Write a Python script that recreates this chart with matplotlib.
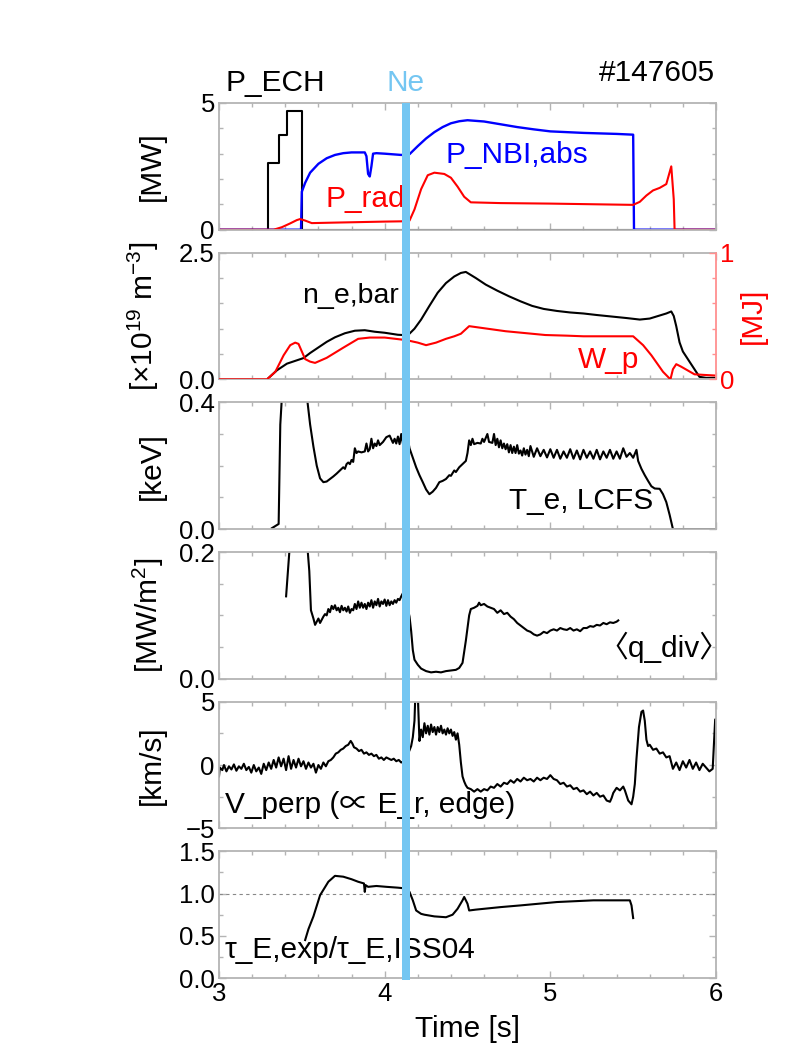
import matplotlib
matplotlib.use("Agg")
import matplotlib.pyplot as plt
from matplotlib.patches import Rectangle
from matplotlib.ticker import MultipleLocator

plt.rcParams['font.family'] = ['Liberation Sans', 'Noto Sans CJK JP', 'DejaVu Sans']
plt.rcParams['mathtext.default'] = 'regular'
plt.rcParams['axes.unicode_minus'] = True

# --- shot data ------------------------------------------------------------
shot = '#147605'
ne_puff = (4.105, 4.153)   # Ne gas puff window [s]

ech_t = [3.0, 3.295, 3.295, 3.36, 3.36, 3.41, 3.41, 3.50, 3.50, 6.0]
ech_p = [0.0, 0.0, 2.64, 2.64, 3.72, 3.72, 4.70, 4.70, 0.0, 0.0]

nbi_t = [3.0, 3.495, 3.50, 3.52, 3.55, 3.60, 3.65, 3.70, 3.75, 3.80, 3.88, 3.89,
         3.90, 3.91, 3.92, 3.93, 3.95, 4.00, 4.10, 4.15, 4.20, 4.25, 4.30, 4.35,
         4.40, 4.45, 4.50, 4.60, 4.70, 4.80, 4.90, 5.00, 5.20, 5.40, 5.50, 5.505, 6.0]
nbi_p = [0.0, 0.0, 1.50, 1.85, 2.25, 2.60, 2.82, 2.95, 3.02, 3.05, 3.05, 2.90,
         2.20, 2.10, 2.50, 3.00, 3.02, 3.00, 2.95, 2.98, 3.30, 3.60, 3.85, 4.05,
         4.20, 4.28, 4.32, 4.27, 4.16, 4.05, 3.96, 3.88, 3.82, 3.78, 3.75, 0.0, 0.0]

rad_t = [3.0, 3.33, 3.38, 3.43, 3.47, 3.49, 3.52, 3.56, 3.70, 3.85, 4.00, 4.10,
         4.15, 4.18, 4.22, 4.26, 4.30, 4.36, 4.40, 4.44, 4.48, 4.52, 4.70, 5.00,
         5.30, 5.50, 5.54, 5.58, 5.62, 5.66, 5.70, 5.73, 5.745, 5.75, 6.0]
rad_p = [0.0, 0.0, 0.10, 0.25, 0.38, 0.42, 0.36, 0.26, 0.28, 0.30, 0.32, 0.33,
         0.36, 0.80, 1.60, 2.15, 2.25, 2.20, 2.05, 1.70, 1.30, 1.08, 1.05, 1.03,
         1.00, 0.98, 1.10, 1.35, 1.55, 1.65, 1.80, 2.50, 1.20, 0.0, 0.0]

ne_t = [3.0, 3.29, 3.35, 3.41, 3.51, 3.55, 3.60, 3.65, 3.70, 3.76, 3.82, 3.88,
        3.94, 4.00, 4.08, 4.14, 4.18, 4.22, 4.27, 4.32, 4.37, 4.42, 4.46, 4.49,
        4.55, 4.61, 4.68, 4.75, 4.82, 4.89, 4.96, 5.04, 5.12, 5.20, 5.28, 5.37,
        5.46, 5.54, 5.60, 5.66, 5.70, 5.73, 5.745, 5.76, 5.78, 5.80, 5.83, 5.87,
        5.90, 5.94, 6.0]
ne_bar = [0.0, 0.0, 0.18, 0.31, 0.42, 0.52, 0.63, 0.74, 0.83, 0.91, 0.96, 0.97,
          0.94, 0.92, 0.88, 0.87, 1.00, 1.18, 1.45, 1.71, 1.90, 2.03, 2.10, 2.12,
          2.00, 1.87, 1.75, 1.64, 1.54, 1.45, 1.39, 1.35, 1.32, 1.30, 1.27, 1.24,
          1.21, 1.18, 1.20, 1.26, 1.30, 1.34, 1.25, 1.05, 0.73, 0.55, 0.40, 0.20,
          0.05, 0.03, 0.03]

wp_t = [3.0, 3.29, 3.34, 3.39, 3.43, 3.46, 3.48, 3.50, 3.52, 3.55, 3.58, 3.65,
        3.75, 3.84, 3.91, 4.00, 4.13, 4.20, 4.25, 4.31, 4.37, 4.42, 4.46, 4.51,
        4.62, 4.73, 4.85, 4.97, 5.10, 5.20, 5.35, 5.50, 5.56, 5.61, 5.68, 5.725,
        5.74, 5.76, 5.79, 5.83, 5.87, 5.93, 6.0]
wp = [0.0, 0.0, 0.06, 0.19, 0.27, 0.29, 0.28, 0.22, 0.16, 0.14, 0.13, 0.17,
      0.25, 0.32, 0.33, 0.33, 0.31, 0.29, 0.27, 0.29, 0.32, 0.34, 0.36, 0.42,
      0.40, 0.38, 0.365, 0.35, 0.345, 0.34, 0.34, 0.34, 0.27, 0.19, 0.06, 0.0,
      0.08, 0.12, 0.10, 0.07, 0.04, 0.035, 0.03]

te_t = [3.32, 3.36, 3.37, 3.38, 3.40, 3.50, 3.53, 3.55, 3.57, 3.59, 3.61, 3.63,
        3.65, 3.67, 3.69, 3.71, 3.73, 3.75, 3.76, 3.77, 3.78, 3.79, 3.80, 3.81,
        3.82, 3.83, 3.84, 3.86, 3.88, 3.89, 3.90, 3.91, 3.92, 3.93, 3.94, 3.95,
        3.96, 3.97, 3.99, 4.01, 4.03, 4.05, 4.06, 4.07, 4.08, 4.09, 4.10, 4.11,
        4.12, 4.13, 4.14, 4.15, 4.17, 4.19, 4.21, 4.23, 4.25, 4.27, 4.29, 4.31,
        4.33, 4.35, 4.37, 4.39, 4.40, 4.42, 4.43, 4.45, 4.47, 4.49, 4.50, 4.51,
        4.52, 4.53, 4.54, 4.56, 4.58, 4.59, 4.60, 4.62, 4.63, 4.65, 4.66, 4.67,
        4.68, 4.69, 4.70, 4.71, 4.72, 4.73, 4.74, 4.75, 4.76, 4.77, 4.78, 4.79,
        4.80, 4.81, 4.82, 4.83, 4.84, 4.85, 4.86, 4.87, 4.88, 4.90, 4.92, 4.94,
        4.96, 4.98, 5.00, 5.02, 5.04, 5.06, 5.08, 5.10, 5.12, 5.14, 5.16, 5.18,
        5.20, 5.22, 5.24, 5.26, 5.28, 5.30, 5.32, 5.34, 5.36, 5.38, 5.40, 5.42,
        5.44, 5.46, 5.48, 5.50, 5.52, 5.53, 5.55, 5.57, 5.59, 5.61, 5.63, 5.66,
        5.68, 5.70, 5.72, 5.74, 6.0]
te = [0.003, 0.016, 0.33, 0.42, 0.60, 0.60, 0.42, 0.33, 0.26, 0.20, 0.16, 0.148,
      0.150, 0.158, 0.166, 0.175, 0.185, 0.195, 0.190, 0.205, 0.210, 0.205, 0.218, 0.212,
      0.255, 0.240, 0.245, 0.242, 0.245, 0.270, 0.245, 0.252, 0.285, 0.255, 0.270, 0.262,
      0.280, 0.265, 0.275, 0.290, 0.295, 0.272, 0.285, 0.270, 0.292, 0.268, 0.300, 0.270,
      0.285, 0.262, 0.285, 0.255, 0.225, 0.195, 0.170, 0.148, 0.125, 0.110, 0.118, 0.130,
      0.148, 0.152, 0.158, 0.170, 0.168, 0.185, 0.180, 0.195, 0.205, 0.215, 0.240, 0.280,
      0.265, 0.285, 0.268, 0.272, 0.270, 0.285, 0.275, 0.300, 0.275, 0.272, 0.300, 0.265,
      0.285, 0.258, 0.280, 0.255, 0.270, 0.252, 0.268, 0.242, 0.265, 0.240, 0.260, 0.240,
      0.265, 0.238, 0.248, 0.232, 0.255, 0.235, 0.250, 0.230, 0.262, 0.228, 0.255, 0.230,
      0.250, 0.226, 0.252, 0.225, 0.250, 0.222, 0.245, 0.225, 0.252, 0.222, 0.248, 0.220,
      0.250, 0.225, 0.245, 0.222, 0.250, 0.220, 0.245, 0.225, 0.250, 0.222, 0.245, 0.222,
      0.255, 0.228, 0.240, 0.225, 0.250, 0.215, 0.190, 0.170, 0.152, 0.135, 0.128, 0.127,
      0.110, 0.085, 0.045, 0.0, 0.0]

qdiv_t = [3.405, 3.43, 3.45, 3.51, 3.53, 3.545, 3.555, 3.57, 3.58, 3.59, 3.60, 3.61,
          3.62, 3.63, 3.64, 3.65, 3.66, 3.67, 3.68, 3.69, 3.70, 3.71, 3.72, 3.73,
          3.74, 3.75, 3.76, 3.77, 3.78, 3.79, 3.80, 3.81, 3.82, 3.83, 3.84, 3.85,
          3.86, 3.87, 3.88, 3.89, 3.90, 3.91, 3.92, 3.93, 3.94, 3.95, 3.96, 3.97,
          3.98, 3.99, 4.00, 4.01, 4.02, 4.03, 4.04, 4.05, 4.06, 4.07, 4.08, 4.09,
          4.10, 4.11, 4.12, 4.13, 4.14, 4.15, 4.16, 4.17, 4.18, 4.20, 4.22, 4.25,
          4.28, 4.31, 4.34, 4.37, 4.40, 4.43, 4.45, 4.47, 4.49, 4.51, 4.52, 4.54,
          4.56, 4.57, 4.58, 4.60, 4.62, 4.64, 4.66, 4.68, 4.70, 4.72, 4.74, 4.76,
          4.78, 4.80, 4.82, 4.84, 4.86, 4.88, 4.90, 4.92, 4.94, 4.96, 4.98, 5.00,
          5.02, 5.04, 5.06, 5.08, 5.10, 5.12, 5.14, 5.16, 5.18, 5.20, 5.22, 5.24,
          5.26, 5.28, 5.30, 5.32, 5.34, 5.36, 5.38, 5.40, 5.41]
qdiv = [0.130, 0.22, 0.30, 0.30, 0.22, 0.170, 0.108, 0.095, 0.085, 0.090, 0.095, 0.088,
        0.093, 0.098, 0.102, 0.100, 0.110, 0.105, 0.115, 0.110, 0.116, 0.108, 0.112, 0.105,
        0.115, 0.108, 0.112, 0.106, 0.114, 0.104, 0.110, 0.108, 0.118, 0.110, 0.122, 0.112,
        0.120, 0.112, 0.118, 0.110, 0.120, 0.114, 0.124, 0.112, 0.122, 0.116, 0.126, 0.114,
        0.122, 0.118, 0.125, 0.115, 0.124, 0.116, 0.122, 0.118, 0.124, 0.120, 0.126, 0.124,
        0.130, 0.135, 0.128, 0.120, 0.110, 0.098, 0.075, 0.045, 0.030, 0.022, 0.016, 0.012,
        0.010, 0.011, 0.010, 0.012, 0.013, 0.014, 0.017, 0.025, 0.060, 0.100, 0.110, 0.112,
        0.115, 0.120, 0.116, 0.118, 0.114, 0.112, 0.110, 0.104, 0.108, 0.102, 0.104, 0.098,
        0.094, 0.088, 0.084, 0.080, 0.076, 0.074, 0.070, 0.068, 0.070, 0.074, 0.072, 0.076,
        0.078, 0.076, 0.080, 0.078, 0.077, 0.080, 0.076, 0.078, 0.075, 0.080, 0.080, 0.083,
        0.082, 0.085, 0.084, 0.088, 0.086, 0.089, 0.088, 0.090, 0.092]

vp_t = [3.0, 3.005, 3.02, 3.03, 3.045, 3.06, 3.075, 3.09, 3.105, 3.12, 3.135, 3.15,
        3.165, 3.18, 3.195, 3.21, 3.225, 3.24, 3.255, 3.27, 3.285, 3.30, 3.315, 3.33,
        3.345, 3.36, 3.375, 3.39, 3.405, 3.42, 3.435, 3.45, 3.465, 3.48, 3.495, 3.51,
        3.525, 3.54, 3.555, 3.57, 3.585, 3.60, 3.615, 3.63, 3.645, 3.66, 3.675, 3.69,
        3.705, 3.72, 3.735, 3.75, 3.765, 3.78, 3.795, 3.805, 3.815, 3.83, 3.845, 3.86,
        3.875, 3.89, 3.905, 3.92, 3.935, 3.95, 3.965, 3.98, 3.995, 4.01, 4.025, 4.04,
        4.055, 4.07, 4.085, 4.10, 4.115, 4.13, 4.145, 4.16, 4.17, 4.18, 4.185, 4.20,
        4.21, 4.22, 4.23, 4.24, 4.25, 4.26, 4.27, 4.28, 4.29, 4.30, 4.31, 4.32,
        4.33, 4.34, 4.35, 4.36, 4.37, 4.38, 4.39, 4.40, 4.41, 4.42, 4.43, 4.44,
        4.45, 4.46, 4.47, 4.48, 4.49, 4.50, 4.52, 4.54, 4.56, 4.58, 4.60, 4.62,
        4.64, 4.66, 4.68, 4.70, 4.72, 4.74, 4.76, 4.78, 4.80, 4.82, 4.84, 4.86,
        4.88, 4.90, 4.92, 4.94, 4.96, 4.98, 5.00, 5.02, 5.04, 5.06, 5.08, 5.10,
        5.12, 5.14, 5.16, 5.18, 5.20, 5.22, 5.24, 5.26, 5.28, 5.30, 5.32, 5.34,
        5.36, 5.37, 5.38, 5.40, 5.42, 5.44, 5.45, 5.47, 5.49, 5.50, 5.51, 5.52,
        5.535, 5.55, 5.56, 5.57, 5.58, 5.59, 5.60, 5.62, 5.64, 5.66, 5.68, 5.70,
        5.72, 5.74, 5.76, 5.78, 5.80, 5.82, 5.84, 5.86, 5.88, 5.90, 5.92, 5.94,
        5.96, 5.98, 5.995, 6.0]
vp = [-0.9, -0.2, -0.4, 0.0, -0.5, -0.1, -0.35, 0.05, -0.45, -0.1, -0.3, 0.1,
      -0.4, -0.15, -0.6, 0.0, -0.5, -0.2, -0.7, 0.1, -0.4, 0.2, -0.3, 0.4,
      -0.2, 0.6, -0.1, 0.5, -0.4, 0.7, -0.3, 0.4, -0.2, 0.5, -0.1, 0.3,
      -0.3, 0.2, -0.2, 0.1, -0.6, 0.0, -0.3, 0.2, -0.1, 0.3, 0.4, 0.6,
      0.9, 1.0, 1.2, 1.3, 1.5, 1.6, 1.9, 1.7, 1.4, 1.3, 1.1, 1.2,
      0.9, 1.0, 0.8, 0.9, 0.7, 0.8, 0.5, 0.6, 0.4, 0.6, 0.5, 0.4,
      0.5, 0.3, 0.4, 0.2, 0.3, 0.7, 1.0, 1.5, 2.2, 3.5, 5.5, 5.5,
      1.9, 2.8, 2.2, 3.3, 2.5, 3.1, 2.4, 3.2, 2.6, 3.0, 2.4, 3.0,
      2.6, 3.1, 2.5, 2.8, 2.4, 2.9, 2.5, 2.8, 2.3, 2.6, 2.0, 2.5,
      1.6, 0.2, -0.9, -1.3, -1.6, -1.8, -1.9, -2.1, -1.9, -2.1, -1.9, -2.0,
      -1.7, -1.8, -1.5, -1.7, -1.4, -1.5, -1.2, -1.4, -1.1, -1.3, -1.0, -1.2,
      -1.1, -1.3, -1.0, -1.2, -1.0, -1.1, -0.8, -1.1, -1.2, -1.5, -1.4, -1.7,
      -1.6, -1.9, -1.8, -2.1, -2.0, -2.3, -2.1, -2.4, -2.2, -2.5, -2.4, -2.8,
      -2.9, -2.6, -2.2, -1.8, -2.0, -1.7, -2.0, -2.8, -3.1, -2.5, -1.5, 0.5,
      3.0, 4.2, 4.3, 3.5, 2.0, 1.5, 1.6, 1.2, 1.3, 0.9, 1.0, 0.6,
      0.7, -0.3, 0.2, -0.4, 0.3, -0.2, 0.4, -0.3, 0.2, -0.4, 0.1, -0.2,
      -0.5, -0.3, 3.6, 3.6]

tau_t = [3.52, 3.54, 3.57, 3.61, 3.66, 3.70, 3.75, 3.80, 3.84, 3.875, 3.88, 3.885,
         3.90, 3.95, 4.01, 4.08, 4.13, 4.15, 4.17, 4.19, 4.22, 4.24, 4.30, 4.37,
         4.41, 4.44, 4.47, 4.48, 4.50, 4.51, 4.55, 4.60, 4.70, 4.82, 4.93, 5.04,
         5.15, 5.26, 5.37, 5.48, 5.49, 5.50]
tau = [0.45, 0.58, 0.73, 0.98, 1.14, 1.21, 1.20, 1.17, 1.14, 1.12, 1.02, 1.10,
       1.08, 1.09, 1.08, 1.07, 1.06, 1.02, 0.92, 0.80, 0.76, 0.75, 0.73, 0.72,
       0.75, 0.82, 0.92, 0.96, 0.88, 0.80, 0.81, 0.82, 0.84, 0.86, 0.88, 0.90,
       0.91, 0.92, 0.92, 0.92, 0.86, 0.71]

# --- layout ---------------------------------------------------------------
fig = plt.figure(figsize=(7.91, 10.61), dpi=100)
W, H = 791., 1061.
x0, x1 = 219., 716.
top0, pitch, ph = 103., 149.67, 126.7
frame_c = '#b4b4b4'
ne_c = '#74c6f2'
FS = 18.5    # tick labels
LS = 21.5    # labels and annotations
ylab_x = -0.107

axes = []
for i in range(6):
    bot = top0 + pitch * i + ph
    ax = fig.add_axes([x0 / W, 1 - bot / H, (x1 - x0) / W, ph / H])
    ax.set_xlim(3, 6)
    ax.xaxis.set_major_locator(MultipleLocator(1))
    ax.xaxis.set_minor_locator(MultipleLocator(0.2))
    ax.tick_params(which='both', direction='in', color=frame_c, top=True,
                   right=True, labelsize=FS, width=1, pad=3)
    ax.tick_params(which='major', length=5)
    ax.tick_params(which='minor', length=3)
    for s in ax.spines.values():
        s.set_color(frame_c)
        s.set_linewidth(1.3)
    if i < 5:
        ax.tick_params(labelbottom=False)
    ax.yaxis.set_label_coords(ylab_x, 0.5)
    axes.append(ax)

lw = 1.5

# heating and radiation
ax = axes[0]
ax.plot(ech_t, ech_p, color='black', lw=lw)
ax.plot(nbi_t, nbi_p, color='#0000ff', lw=lw + 0.2)
ax.plot(rad_t, rad_p, color='#ff0000', lw=lw)
ax.set_ylim(0, 5)
ax.set_yticks([0, 5])
ax.yaxis.set_minor_locator(MultipleLocator(1))
ax.set_ylabel('[MW]', fontsize=LS)
ax.text(0.014, 1.16, 'P_ECH', transform=ax.transAxes, fontsize=LS,
        va='center', ha='left')
ax.text(sum(ne_puff) / 2, 1.16, 'Ne', transform=ax.get_xaxis_transform(),
        fontsize=LS, color=ne_c, va='center', ha='center')
ax.text(0.998, 1.24, shot, transform=ax.transAxes, fontsize=LS,
        va='center', ha='right')
ax.text(0.456, 0.59, 'P_NBI,abs', transform=ax.transAxes, fontsize=LS,
        color='#0000ff', va='center')
ax.text(0.215, 0.24, 'P_rad', transform=ax.transAxes, fontsize=LS,
        color='#ff0000', va='center')

# density and stored energy
ax = axes[1]
ax.plot(ne_t, ne_bar, color='black', lw=lw)
ax.set_ylim(0, 2.5)
ax.set_yticks([0, 2.5])
ax.set_yticklabels(['0.0', '2.5'])
ax.yaxis.set_minor_locator(MultipleLocator(0.5))
ax.tick_params(which='both', right=False)
ax.spines['right'].set_visible(False)
ax.set_ylabel('[×10$^{19}$ m$^{-3}$]', fontsize=LS)
ax.yaxis.set_label_coords(ylab_x - 0.01, 0.5)
ax.text(0.168, 0.66, 'n_e,bar', transform=ax.transAxes, fontsize=LS - 1,
        va='center')
axr = ax.twinx()
axr.set_position(ax.get_position())
axr.plot(wp_t, wp, color='#ff0000', lw=lw)
axr.set_xlim(3, 6)
axr.set_ylim(0, 1)
axr.set_yticks([0, 1])
axr.yaxis.set_minor_locator(MultipleLocator(0.2))
axr.tick_params(which='both', direction='in', color='#ff9090',
                labelcolor='#ff0000', labelsize=FS, width=1, pad=3)
axr.tick_params(which='major', length=5)
axr.tick_params(which='minor', length=3)
for s in axr.spines.values():
    s.set_visible(False)
axr.spines['right'].set_visible(True)
axr.spines['right'].set_color('#ff9090')
axr.spines['right'].set_linewidth(1.3)
axr.set_ylabel('[MJ]', fontsize=LS, color='#ff0000')
axr.yaxis.set_label_coords(1.046, 0.5)
axr.text(0.723, 0.15, 'W_p', transform=axr.transAxes, fontsize=LS,
         color='#ff0000', va='center')

# edge electron temperature
ax = axes[2]
ax.plot(te_t, te, color='black', lw=lw)
ax.set_ylim(0, 0.4)
ax.set_yticks([0, 0.4])
ax.set_yticklabels(['0.0', '0.4'])
ax.yaxis.set_minor_locator(MultipleLocator(0.1))
ax.set_ylabel('[keV]', fontsize=LS)
ax.text(0.874, 0.22, 'T_e, LCFS', transform=ax.transAxes, fontsize=LS,
        va='center', ha='right')

# divertor heat flux
ax = axes[3]
ax.plot(qdiv_t, qdiv, color='black', lw=lw)
ax.set_ylim(0, 0.2)
ax.set_yticks([0, 0.2])
ax.set_yticklabels(['0.0', '0.2'])
ax.yaxis.set_minor_locator(MultipleLocator(0.05))
ax.set_ylabel('[MW/m$^2$]', fontsize=LS)
ax.text(0.763, 0.25, '〈q_div〉', transform=ax.transAxes, fontsize=LS,
        va='center', ha='left')

# edge perpendicular velocity
ax = axes[4]
ax.plot(vp_t, vp, color='black', lw=lw)
ax.set_ylim(-5, 5)
ax.set_yticks([-5, 0, 5])
ax.yaxis.set_minor_locator(MultipleLocator(2.5))
ax.set_ylabel('[km/s]', fontsize=LS)
ax.text(0.012, 0.185, 'V_perp (∝ E_r, edge)', transform=ax.transAxes,
        fontsize=LS, va='center', ha='left')

# confinement improvement factor
ax = axes[5]
ax.axhline(1.0, color='#888888', lw=0.8, ls=(0, (3, 3)))
ax.plot(tau_t, tau, color='black', lw=lw)
ax.set_ylim(0, 1.5)
ax.set_yticks([0, 0.5, 1.0, 1.5])
ax.set_yticklabels(['0.0', '0.5', '1.0', '1.5'])
ax.yaxis.set_minor_locator(MultipleLocator(0.25))
ax.set_xlabel('Time [s]', fontsize=LS, labelpad=6)
ax.text(0.012, 0.22, 'τ_E,exp/τ_E,ISS04', transform=ax.transAxes,
        fontsize=LS, va='center', ha='left')

# Ne puff band across all panels
fx0 = (x0 + (x1 - x0) * (ne_puff[0] - 3) / 3) / W
fx1 = (x0 + (x1 - x0) * (ne_puff[1] - 3) / 3) / W
fy0 = 1 - (top0 + pitch * 5 + ph + 2) / H
fy1 = 1 - top0 / H
fig.add_artist(Rectangle((fx0, fy0), fx1 - fx0, fy1 - fy0,
                         transform=fig.transFigure, color=ne_c, lw=0,
                         zorder=5))

fig.savefig('out.png', dpi=100)
